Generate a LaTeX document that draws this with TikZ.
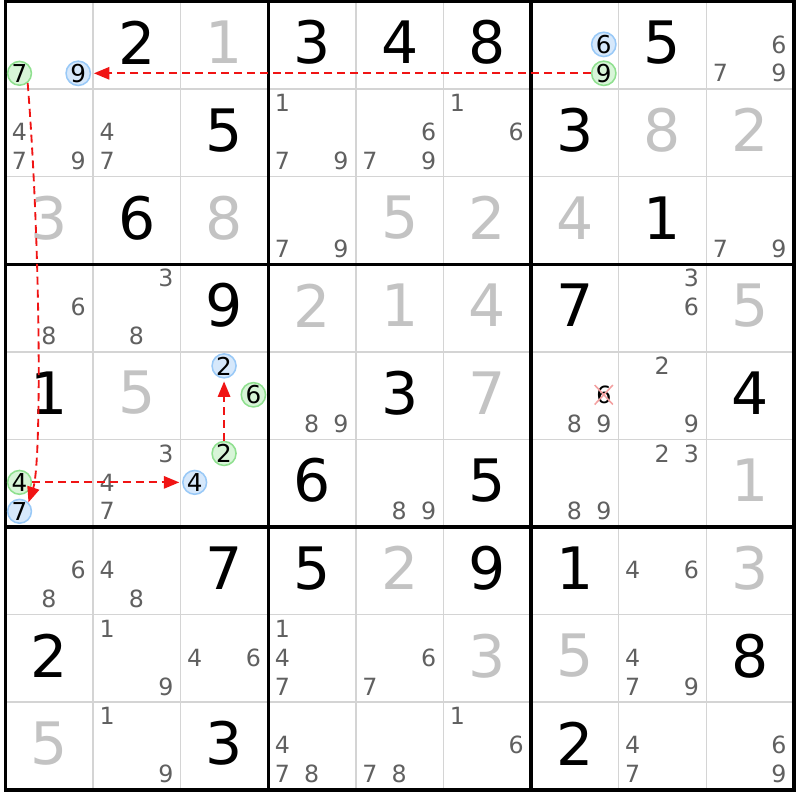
\documentclass[tikz,border=0pt]{standalone}
\usepackage{fontspec}
\setmainfont{DejaVu Sans}
\usetikzlibrary{arrows.meta,shapes.misc}
\definecolor{thingrey}{HTML}{D4D4D4}
\definecolor{pencil}{HTML}{606060}
\definecolor{solved}{HTML}{C3C3C3}
\definecolor{onfill}{HTML}{D8F5D8}
\definecolor{ondraw}{HTML}{8FE08F}
\definecolor{offfill}{HTML}{D6E8FB}
\definecolor{offdraw}{HTML}{99C9F7}
\definecolor{chainred}{HTML}{F01414}
\definecolor{strikered}{HTML}{F4A0A0}
\tikzset{
  cellline/.style={thingrey, line width=0.5pt},
  boxline/.style={black, line width=1.1pt},
  givenno/.style={font=\fontsize{19}{22}\selectfont, text=black},
  solvedno/.style={givenno, text=solved},
  candno/.style={font=\fontsize{7.7}{8}\selectfont, text=pencil, inner sep=0pt},
  linkon/.style={circle, draw=ondraw, fill=onfill, line width=0.5pt, inner sep=0pt,
    minimum size=0.27cm, text=black, font=\fontsize{8}{8}\selectfont},
  linkoff/.style={linkon, draw=offdraw, fill=offfill},
  struck/.style={candno, text=black, cross out, draw=strikered, line width=0.5pt,
    minimum size=0.19cm},
  chain/.style={draw=chainred, line width=0.6pt, dash pattern=on 2.6pt off 1.6pt,
    shorten >=0.9pt, -{Triangle[length=5pt,width=4pt]}},
}
\newcommand{\given}[4]{\node[#4] (r#1c#2) at ({#2-0.5},{9.53-#1}) {#3};}
\newcommand{\ringcand}[4]{%
  \pgfmathsetmacro\cx{#2-1+0.16+0.335*mod(#3-1,3)}%
  \pgfmathsetmacro\cy{10-#1-0.16-0.33*int((#3-1)/3)}%
  \node[#4] (r#1c#2n#3) at (\cx,\cy) {#3};}
\begin{document}
\begin{tikzpicture}
  \fill[white] (-0.063,-0.115) rectangle (9.07,9.017);
  \useasboundingbox (-0.063,-0.115) rectangle (9.07,9.017);
  \foreach \i in {1,2,4,5,7,8} {
    \draw[cellline] (\i,0) -- (\i,9);
    \draw[cellline] (0,\i) -- (9,\i);
  }
  \foreach \i in {3,6} {
    \draw[boxline] (\i,0) -- (\i,9);
    \draw[boxline] (0,\i) -- (9,\i);
  }
  \draw[boxline] (0,0) rectangle (9,9);
  \foreach \r/\c/\d in {1/2/2,1/4/3,1/5/4,1/6/8,1/8/5,2/3/5,2/7/3,3/2/6,3/8/1,
      4/3/9,4/7/7,5/1/1,5/5/3,5/9/4,6/4/6,6/6/5,7/3/7,7/4/5,7/6/9,7/7/1,
      8/1/2,8/9/8,9/3/3,9/7/2}
    \given{\r}{\c}{\d}{givenno};
  \foreach \r/\c/\d in {1/3/1,2/8/8,2/9/2,3/1/3,3/3/8,3/5/5,3/6/2,3/7/4,
      4/4/2,4/5/1,4/6/4,4/9/5,5/2/5,5/6/7,6/9/1,7/5/2,7/9/3,8/6/3,8/7/5,9/1/5}
    \given{\r}{\c}{\d}{solvedno};
  \foreach \r/\c/\ds in {1/9/{6,7,9},2/1/{4,7,9},2/2/{4,7},2/4/{1,7,9},
      2/5/{6,7,9},2/6/{1,6},3/4/{7,9},3/9/{7,9},4/1/{6,8},4/2/{3,8},4/8/{3,6},
      5/4/{8,9},5/7/{8,9},5/8/{2,9},6/2/{3,4,7},6/5/{8,9},6/7/{8,9},6/8/{2,3},
      7/1/{6,8},7/2/{4,8},7/8/{4,6},8/2/{1,9},8/3/{4,6},8/4/{1,4,7},8/5/{6,7},
      8/8/{4,7,9},9/2/{1,9},9/4/{4,7,8},9/5/{7,8},9/6/{1,6},9/8/{4,7},9/9/{6,9}}
    {\foreach \d in \ds {\ringcand{\r}{\c}{\d}{candno}}}
  \ringcand{5}{7}{6}{struck}
  \ringcand{1}{1}{7}{linkon}
  \ringcand{1}{1}{9}{linkoff}
  \ringcand{1}{7}{6}{linkoff}
  \ringcand{1}{7}{9}{linkon}
  \ringcand{5}{3}{2}{linkoff}
  \ringcand{5}{3}{6}{linkon}
  \ringcand{6}{1}{4}{linkon}
  \ringcand{6}{1}{7}{linkoff}
  \ringcand{6}{3}{2}{linkon}
  \ringcand{6}{3}{4}{linkoff}
  \draw[chain] (r1c7n9) -- (r1c1n9);
  \draw[chain, shorten >=0pt] (r1c1n7.-50) .. controls +(0.15,-1.9) and +(0.15,0.45) .. (r6c1n7.45);
  \draw[chain] (r6c1n4) -- (r6c3n4);
  \draw[chain] (r6c3n2) -- (r5c3n2);
\end{tikzpicture}
\end{document}
